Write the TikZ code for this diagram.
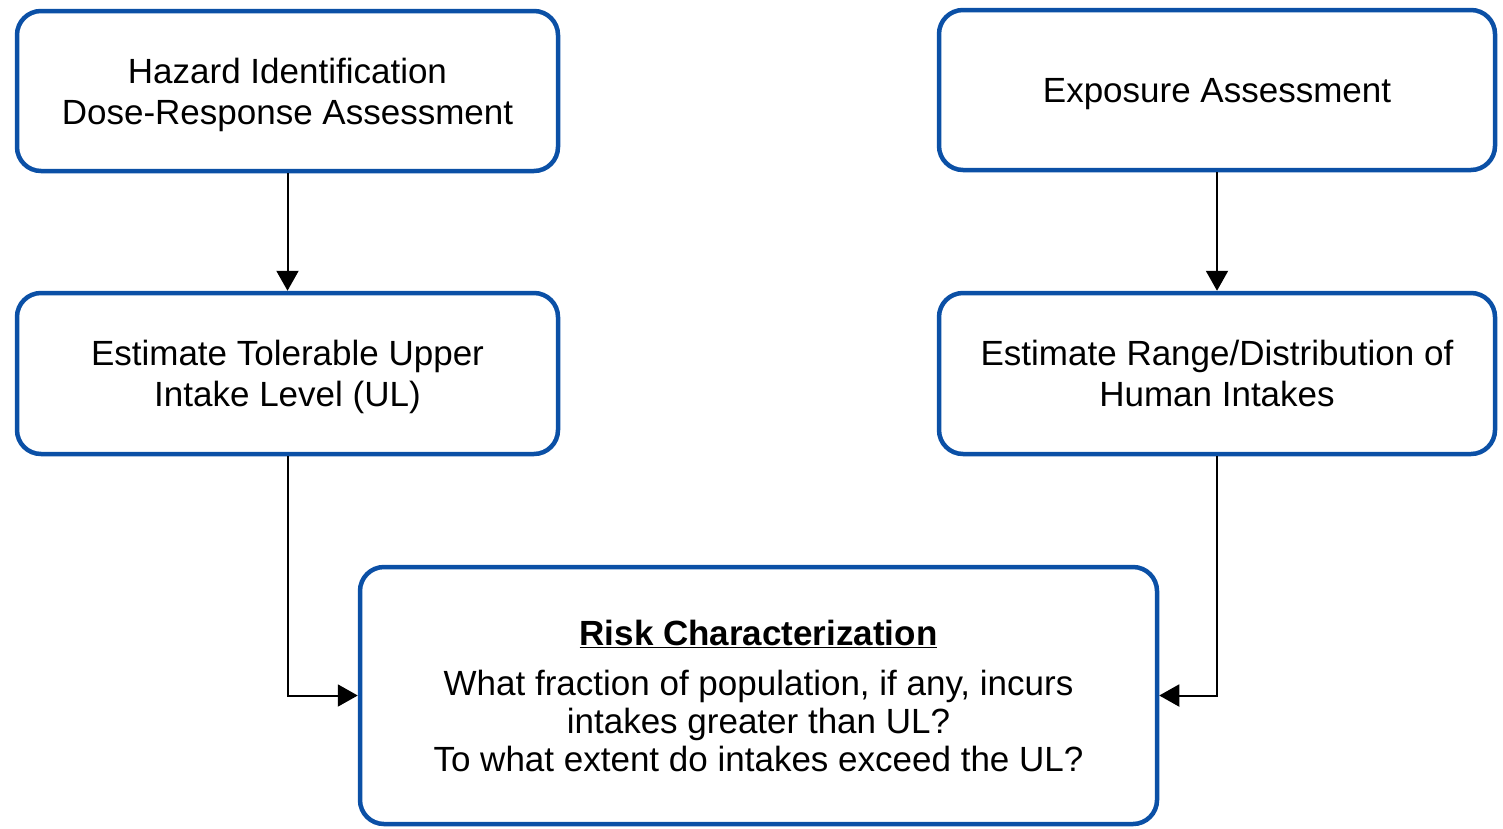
\documentclass[tikz,border=0pt]{standalone}
\usepackage{fontspec}
\setmainfont{Liberation Sans}
\usetikzlibrary{arrows.meta}
\definecolor{boxblue}{HTML}{0B50A6}
\begin{document}
\begin{tikzpicture}[x=1pt,y=-1pt,
  box/.style={draw=boxblue, line width=4.5pt, rounded corners=24pt, fill=white,
    align=center, inner sep=0pt, font=\fontsize{35}{41}\selectfont},
  topbox/.style={box, text depth=0pt},
  conn/.style={line width=2pt, -{Triangle[length=20pt,width=22pt]}}]
\useasboundingbox (0,0) rectangle (1503,828);
\node[topbox, minimum width=541pt, minimum height=160pt] (haz) at (287.5,91) {Hazard Identification\\Dose-Response Assessment};
\node[topbox, minimum width=556pt, minimum height=160pt] (exp) at (1217,90) {Exposure Assessment};
\node[topbox, minimum width=541pt, minimum height=161pt] (ul) at (287.5,373.5) {Estimate Tolerable Upper\\Intake Level (UL)};
\node[topbox, minimum width=556pt, minimum height=161pt] (rng) at (1217,373.5) {Estimate Range/Distribution of\\Human Intakes};
\node[box, minimum width=797pt, minimum height=257pt, font=\fontsize{35}{38}\selectfont] (risk) at (758.5,695.5)
  {\textbf{\underline{Risk Characterization}}\\[12pt]What fraction of population, if any, incurs\\intakes greater than UL?\\To what extent do intakes exceed the UL?};
\draw[conn] (haz.south) -- (ul.north);
\draw[conn] (exp.south) -- (rng.north);
\draw[conn] (ul.south) |- (risk.west);
\draw[conn] (rng.south) |- (risk.east);
\end{tikzpicture}
\end{document}
